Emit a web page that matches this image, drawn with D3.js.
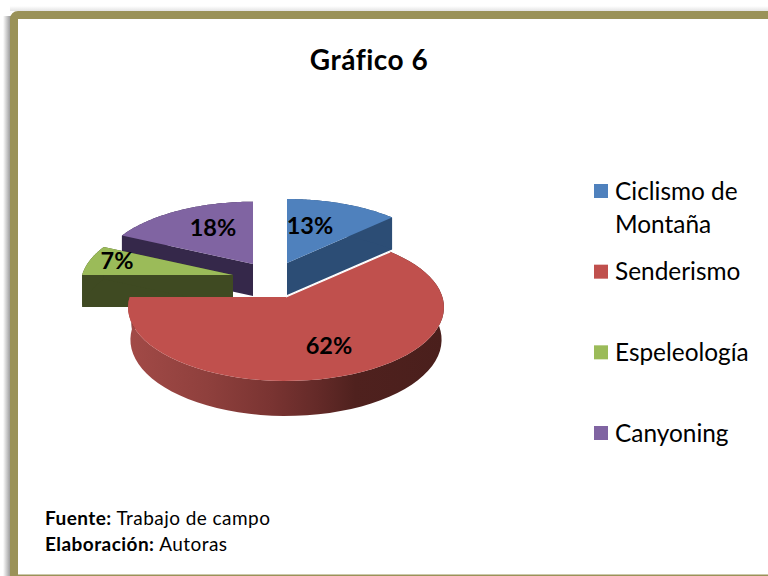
<!DOCTYPE html>
<html><head><meta charset="utf-8">
<script src="https://cdn.jsdelivr.net/npm/d3@7"></script>
<style>html,body{margin:0;padding:0;background:#fff;overflow:hidden}svg{display:block}</style>
</head><body><svg id="c" width="768" height="576"></svg>
<script>
const categories = [["Ciclismo de","Montaña"],["Senderismo"],["Espeleología"],["Canyoning"]];
const values = [13,62,7,18];
const labels = ["13%","62%","7%","18%"];
const topColors = ["#4f81bd","#c0504d","#9bbb59","#8064a2"];
const sideColors = ["#2c4d75","#4f1f1d","#3f4a22","#35284a"];
const title = "Gráfico 6";
const sourceLines = [["Fuente:"," Trabajo de campo"],["Elaboración:"," Autoras"]];

const tips = [[287,263],[286,297],[233,275],[253,264]];
const radii = [1,0.99,0.955,0.97];
const labelPos = [[310,226],[329,346],[117,261],[213,228]];
const rx = 158, b = 73, k = -0.141, depth = 32;

const svg = d3.select("#c");
const defs = svg.append("defs");
const blur = defs.append("linearGradient").attr("id","shadow");
blur.append("stop").attr("offset",0).attr("stop-color","#fff");
blur.append("stop").attr("offset",1).attr("stop-color","#909090");
const blurTop = defs.append("linearGradient").attr("id","shadowTop").attr("x1",0).attr("x2",0).attr("y1",0).attr("y2",1);
blurTop.append("stop").attr("offset",0).attr("stop-color","#fff");
blurTop.append("stop").attr("offset",1).attr("stop-color","#e4e4e4");
const redSide = defs.append("linearGradient").attr("id","redSide");
[[0,"#a24a47"],[0.25,"#8f403d"],[0.45,"#7a3432"],[0.6,"#642a28"],[0.72,"#4f211e"],[1,"#4a1f1c"]]
  .forEach(s=>redSide.append("stop").attr("offset",s[0]).attr("stop-color",s[1]));

svg.append("rect").attr("x",10).attr("y",6).attr("width",758).attr("height",5).attr("fill","url(#shadowTop)");
svg.append("rect").attr("x",3).attr("y",16).attr("width",8).attr("height",560).attr("fill","url(#shadow)");
svg.append("rect").attr("x",14).attr("y",15).attr("width",800).attr("height",600).attr("rx",4)
  .attr("fill","#fff").attr("stroke","#9a9258").attr("stroke-width",8);
svg.append("rect").attr("x",18).attr("y",574.5).attr("width",750).attr("height",1.5).attr("fill","#9a9258");

const angle = d3.scaleLinear().domain([0,100]).range([0,2*Math.PI]);
const pie = values.map((v,i)=>{
  const start = values.slice(0,i).reduce((a,x)=>a+x,0);
  return {i,a0:angle(start),a1:angle(start+v)};
});
const project = (i,t)=>{
  const X=Math.sin(t)*radii[i], Y=-Math.cos(t)*radii[i], w=1+k*Y;
  return [tips[i][0]+rx*X/w, tips[i][1]+b*Y/w];
};
const arcPts = s=>d3.range(0,61).map(j=>project(s.i,s.a0+(s.a1-s.a0)*j/60));
const line = d3.line();

[3,2,0,1].forEach(n=>{
  const s = pie[n], tip = tips[n], arc = arcPts(s);
  const g = svg.append("g");
  const down = p=> n===1
    ? [tip[0]+(p[0]-tip[0])*0.985, p[1]+depth+3*(p[1]-tip[1])/85]
    : [p[0],p[1]+depth];
  g.append("path").attr("d",line([tip,arc[0],down(arc[0]),down(tip)])+"Z").attr("fill",sideColors[n]);
  g.append("path").attr("d",line([tip,arc[60],down(arc[60]),down(tip)])+"Z").attr("fill",sideColors[n]);
  g.append("path").attr("d",line(arc.concat(arc.slice().reverse().map(down)))+"Z")
    .attr("fill",n===1?"url(#redSide)":sideColors[n]);
  g.append("path").attr("d",line([tip,...arc])+"Z").attr("fill",topColors[n]);
  if(n===1) g.append("path").attr("d",line([tip,arc[0]])).attr("stroke","#fff").attr("stroke-width",1.2).attr("fill","none");
});

labels.forEach((t,i)=>svg.append("text").attr("x",labelPos[i][0]).attr("y",labelPos[i][1]).attr("dy","0.35em")
  .attr("text-anchor","middle").attr("font-family","Lato").attr("font-weight",700).attr("font-size",23.5).attr("fill","#000").text(t));

svg.append("text").attr("x",369).attr("y",70).attr("text-anchor","middle").attr("font-family","Lato")
  .attr("font-weight",700).attr("font-size",28).attr("letter-spacing",0.5).attr("fill","#000").text(title);

const legY = d3.scalePoint().domain(d3.range(4)).range([191,433]);
categories.forEach((c,i)=>{
  const y = legY(i);
  svg.append("rect").attr("x",594).attr("y",y-7).attr("width",14).attr("height",14).attr("fill",topColors[i]);
  c.forEach((t,j)=>svg.append("text").attr("x",615).attr("y",y+j*33).attr("dy","0.35em")
    .attr("font-family","Lato").attr("font-size",24.4).attr("fill","#000").text(t));
});

sourceLines.forEach((l,i)=>{
  const t = svg.append("text").attr("x",45).attr("y",525+i*26).attr("font-family","Lato").attr("font-size",19)
    .attr("letter-spacing",0.45).attr("fill","#000");
  t.append("tspan").attr("font-weight",700).text(l[0]);
  t.append("tspan").attr("xml:space","preserve").text(l[1]);
});
</script></body></html>
